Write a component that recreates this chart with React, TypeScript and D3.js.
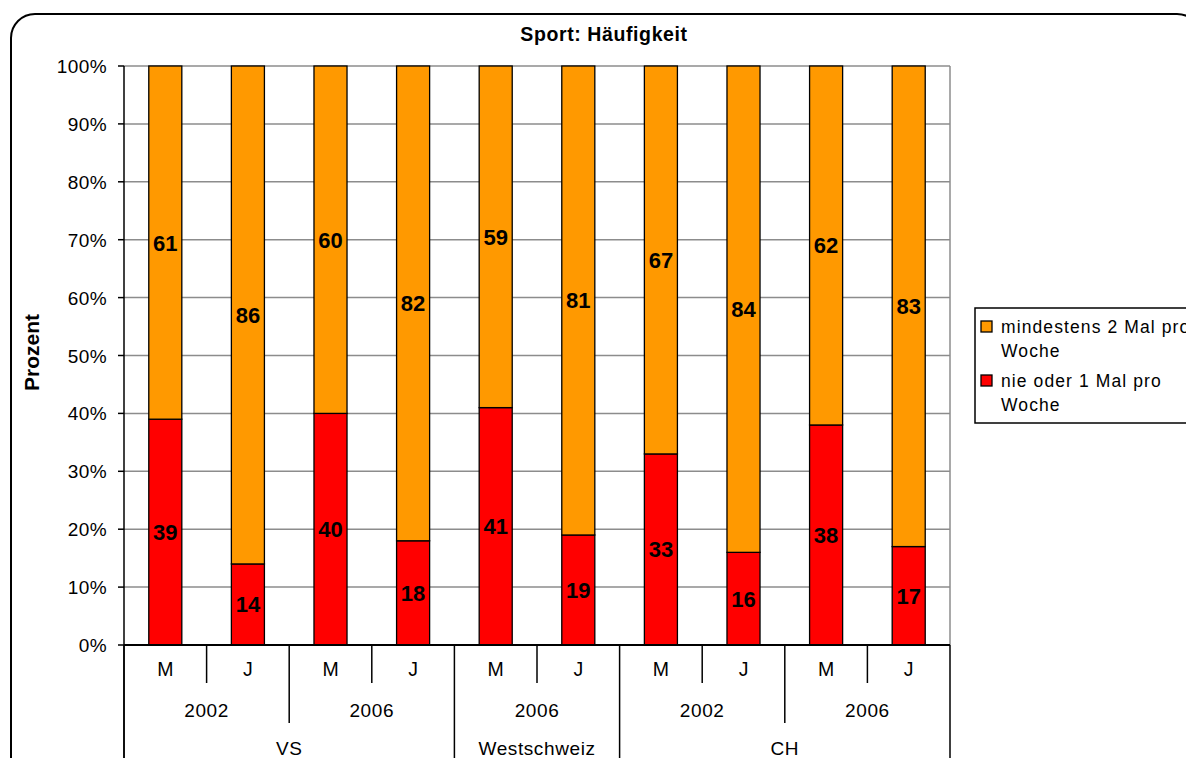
import React from "react";
import * as d3 from "d3";

const categories = ["M", "J", "M", "J", "M", "J", "M", "J", "M", "J"];
const years = [
  { label: "2002", start: 0, end: 2 },
  { label: "2006", start: 2, end: 4 },
  { label: "2006", start: 4, end: 6 },
  { label: "2002", start: 6, end: 8 },
  { label: "2006", start: 8, end: 10 },
];
const regions = [
  { label: "VS", start: 0, end: 4 },
  { label: "Westschweiz", start: 4, end: 6 },
  { label: "CH", start: 6, end: 10 },
];
const nieOder1 = [39, 14, 40, 18, 41, 19, 33, 16, 38, 17];
const mindestens2 = [61, 86, 60, 82, 59, 81, 67, 84, 62, 83];
const yTicks = [0, 10, 20, 30, 40, 50, 60, 70, 80, 90, 100];
const seriesNames = ["mindestens 2 Mal pro|Woche", "nie oder 1 Mal pro|Woche"];

const ORANGE = "#FF9900";
const RED = "#FF0000";
const FONT = "'Liberation Sans', Arial, sans-serif";

export default function App() {
  const W = 1186;
  const H = 758;
  const left = 124;
  const right = 950;
  const top = 66;
  const bottom = 645;

  const x = d3
    .scaleBand<number>()
    .domain(d3.range(categories.length))
    .range([left, right])
    .paddingInner(0.6)
    .paddingOuter(0.3);
  const step = x.step();
  const catLeft = (i: number) => left + i * step;
  const y = d3.scaleLinear().domain([0, 100]).range([bottom, top]);

  const stacked = categories.map((_, i) => {
    const r = nieOder1[i];
    const o = mindestens2[i];
    return [
      { y0: 0, y1: r, v: r, color: RED },
      { y0: r, y1: r + o, v: o, color: ORANGE },
    ];
  });

  const seps: { x: number; y2: number }[] = [];
  for (let i = 0; i <= categories.length; i++) {
    let y2 = 683;
    if (regions.some((r) => r.start === i || r.end === i)) y2 = H + 5;
    else if (years.some((g) => g.start === i || g.end === i)) y2 = 723;
    seps.push({ x: catLeft(i), y2 });
  }

  return (
    <svg
      width={W}
      height={H}
      style={{ position: "fixed", left: 0, top: 0, background: "#fff" }}
      fontFamily={FONT}
    >
      <rect x={0} y={0} width={W} height={H} fill="#fff" />
      <rect
        x={11}
        y={14}
        width={1190}
        height={800}
        rx={24}
        ry={24}
        fill="none"
        stroke="#000"
        strokeWidth={2}
      />
      <text
        x={604}
        y={41}
        textAnchor="middle"
        fontWeight="bold"
        fontSize={19.5}
        letterSpacing={0.6}
      >
        Sport: Häufigkeit
      </text>
      <text
        transform={`translate(39,352.5) rotate(-90)`}
        textAnchor="middle"
        fontWeight="bold"
        fontSize={21}
      >
        Prozent
      </text>
      {yTicks.map((t) => (
        <line
          key={"g" + t}
          x1={left}
          x2={right}
          y1={y(t)}
          y2={y(t)}
          stroke="#8c8c8c"
          strokeWidth={1.5}
        />
      ))}
      <line x1={right} x2={right} y1={top} y2={bottom} stroke="#8c8c8c" strokeWidth={1.5} />
      {stacked.map((segs, i) =>
        segs.map((s, k) => (
          <rect
            key={`b${i}-${k}`}
            x={x(i)!}
            y={y(s.y1)}
            width={x.bandwidth()}
            height={y(s.y0) - y(s.y1)}
            fill={s.color}
            stroke="#000"
            strokeWidth={1.3}
          />
        ))
      )}
      {stacked.map((segs, i) =>
        segs.map((s, k) => (
          <text
            key={`l${i}-${k}`}
            x={x(i)! + x.bandwidth() / 2}
            y={y((s.y0 + s.y1) / 2) + 8}
            textAnchor="middle"
            fontWeight="bold"
            fontSize={22}
          >
            {s.v}
          </text>
        ))
      )}
      <line x1={left} x2={left} y1={top} y2={H + 5} stroke="#000" strokeWidth={1.5} />
      {yTicks.map((t) => (
        <g key={"t" + t}>
          <line x1={left - 6} x2={left} y1={y(t)} y2={y(t)} stroke="#000" strokeWidth={1.5} />
          <text x={107} y={y(t) + 7} textAnchor="end" fontSize={19} letterSpacing={0.4}>
            {t + "%"}
          </text>
        </g>
      ))}
      <line x1={left} x2={right} y1={bottom} y2={bottom} stroke="#000" strokeWidth={2} />
      {seps.map((s, i) => (
        <line key={"s" + i} x1={s.x} x2={s.x} y1={bottom} y2={s.y2} stroke="#000" strokeWidth={1.5} />
      ))}
      {categories.map((c, i) => (
        <text key={"c" + i} x={catLeft(i) + step / 2} y={676} textAnchor="middle" fontSize={19.5}>
          {c}
        </text>
      ))}
      {years.map((g, i) => (
        <text
          key={"y" + i}
          x={(catLeft(g.start) + catLeft(g.end)) / 2}
          y={716.5}
          textAnchor="middle"
          fontSize={19}
          letterSpacing={0.6}
        >
          {g.label}
        </text>
      ))}
      {regions.map((g, i) => (
        <text
          key={"r" + i}
          x={(catLeft(g.start) + catLeft(g.end)) / 2}
          y={755}
          textAnchor="middle"
          fontSize={19}
          letterSpacing={0.6}
        >
          {g.label}
        </text>
      ))}
      <rect x={975} y={308} width={260} height={115} fill="#fff" stroke="#000" strokeWidth={1.5} />
      {[ORANGE, RED].map((col, k) => {
        const [l1, l2] = seriesNames[k].split("|");
        const by = 333 + k * 54;
        return (
          <g key={"leg" + k}>
            <rect x={981} y={by - 12} width={11} height={11} fill={col} stroke="#000" strokeWidth={1.3} />
            <text x={1001} y={by} fontSize={17.5} letterSpacing={1.1}>
              {l1}
            </text>
            <text x={1001} y={by + 24} fontSize={17.5} letterSpacing={1.1}>
              {l2}
            </text>
          </g>
        );
      })}
    </svg>
  );
}
